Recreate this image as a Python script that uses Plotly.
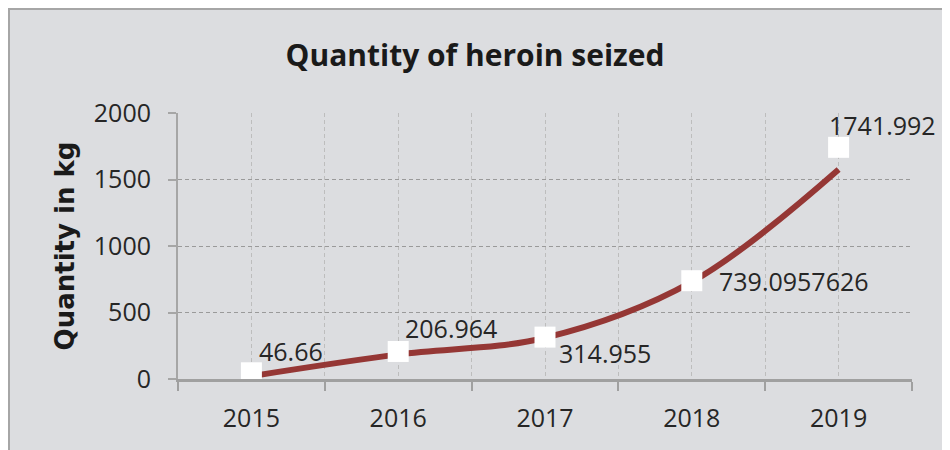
import plotly.graph_objects as go

# seized heroin per year (kg), as printed on the chart
years = [2015, 2016, 2017, 2018, 2019]
quantity = [46.66, 206.964, 314.955, 739.0957626, 1741.992]
labels = ["46.66", "206.964", "314.955", "739.0957626", "1741.992"]
# the smoothed red curve (it does not pass through every point)
curve = [22, 185, 310, 730, 1575]
y_ticks = [0, 500, 1000, 1500, 2000]

# label offsets from each marker (px)
label_dx = [6, 5, 12, 25, -12]
label_dy = [22, 23, -16, 0, 22]

font = "Open Sans"
bg = "#dcdde0"

# the page body adds 8px around the figure, so size it to fill the rest
W, H = 942, 442
l, r, t, b = 170, 38, 105, 71
pw, ph = W - l - r, H - t - b

fig = go.Figure()

# red smoothed line
fig.add_trace(go.Scatter(
    x=years, y=curve, mode="lines",
    line=dict(color="#953735", width=6, shape="spline", smoothing=1),
    hoverinfo="skip", showlegend=False))

# white square markers
fig.add_trace(go.Scatter(
    x=years, y=quantity, mode="markers",
    marker=dict(symbol="square", size=21, color="white", line=dict(width=0)),
    showlegend=False))

# data labels
for x, y, tx, dx, dy in zip(years, quantity, labels, label_dx, label_dy):
    fig.add_annotation(x=x, y=y, text=tx, showarrow=False,
                       xanchor="left", yanchor="middle",
                       xshift=dx, yshift=dy,
                       font=dict(family=font, size=25, color="#262626"))

# grey chart area with border
fig.add_shape(type="rect", xref="paper", yref="paper",
              x0=(1 - l) / pw, x1=(935 - l) / pw,
              y0=-(b + 20) / ph, y1=(H - b - 1) / ph,
              fillcolor=bg, line=dict(color="#a6a6a6", width=2),
              layer="below")

fig.update_layout(
    width=W, height=H,
    margin=dict(l=l, r=r, t=t, b=b),
    paper_bgcolor="white",
    plot_bgcolor="rgba(0,0,0,0)",
    title=dict(text="<b>Quantity of heroin seized</b>",
               x=467 / W, xref="container", xanchor="center",
               y=1 - 47 / H, yref="container", yanchor="middle",
               font=dict(family=font, size=30, color="#1a1a1a")),
    font=dict(family=font, size=24, color="#262626"),
)

fig.update_xaxes(
    range=[2014.5, 2019.5],
    tickvals=years, ticktext=[str(y) for y in years],
    ticks="", ticklabelstandoff=15,
    showgrid=True, gridcolor="#bdbdbd", griddash="4px,3px", gridwidth=1,
    minor=dict(tickvals=[y - 0.5 for y in years] + [years[-1] + 0.5],
               ticks="outside", ticklen=9, tickwidth=2, tickcolor="#a0a0a0",
               showgrid=True, gridcolor="#bdbdbd", griddash="4px,3px", gridwidth=1),
    showline=True, linecolor="#a0a0a0", linewidth=3,
    zeroline=False,
    tickfont=dict(family=font, size=25, color="#262626"),
)

fig.update_yaxes(
    range=[0, 2000], tickvals=y_ticks,
    ticks="outside", ticklen=8, tickwidth=2, tickcolor="#a6a6a6",
    ticklabelstandoff=12,
    showgrid=True, gridcolor="#9a9a9a", griddash="4px,3px", gridwidth=1,
    showline=True, linecolor="#a6a6a6", linewidth=2,
    zeroline=False,
    tickfont=dict(family=font, size=25, color="#262626"),
    title=dict(text="<b>Quantity in kg</b>", standoff=12,
               font=dict(family="DejaVu Sans", size=26, color="#1a1a1a")),
)

fig.write_html("out.html")
